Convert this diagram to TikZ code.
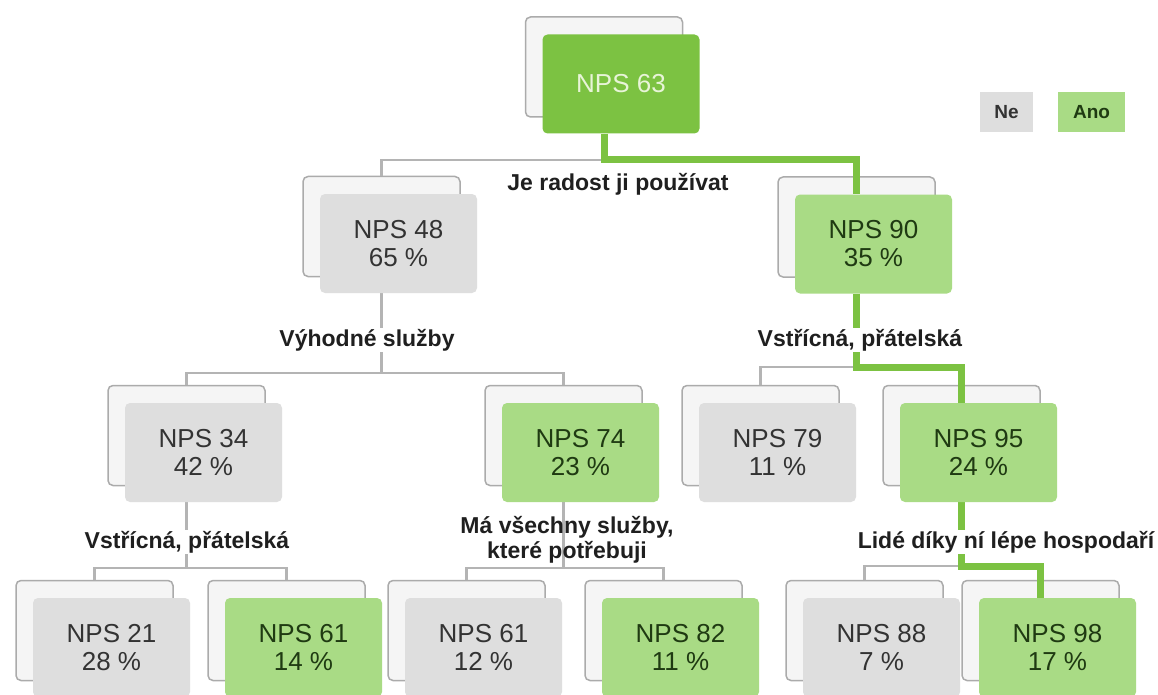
\documentclass[tikz,border=0pt]{standalone}
\usepackage{fontspec}
\setmainfont{Liberation Sans}
\usetikzlibrary{calc}
\definecolor{rootgreen}{HTML}{7CC242}
\definecolor{boxgreen}{HTML}{A9DB85}
\definecolor{boxgray}{HTML}{DEDEDE}
\definecolor{backfill}{HTML}{F5F5F5}
\definecolor{edgegray}{HTML}{ABABAB}
\definecolor{linegray}{HTML}{B4B4B4}
\definecolor{txtgray}{HTML}{333333}
\definecolor{txtgreen}{HTML}{1F3A12}
\definecolor{roottxt}{HTML}{E8F4D8}
\pgfdeclarelayer{bg}
\pgfdeclarelayer{mid}
\pgfsetlayers{bg,mid,main}
\tikzset{
  front/.style={rounded corners=5pt, minimum width=157pt, minimum height=99pt,
    align=center, inner sep=0pt, font=\fontsize{26}{28}\selectfont},
  nobox/.style={front, fill=boxgray, text=txtgray},
  yesbox/.style={front, fill=boxgreen, text=txtgreen},
  rootbox/.style={front, fill=rootgreen, text=roottxt},
  backbox/.style={rounded corners=5pt, minimum width=157pt, minimum height=100pt,
    draw=edgegray, line width=1.5pt, fill=backfill, inner sep=0pt},
  grayline/.style={draw=linegray, line width=2.2pt},
  greenline/.style={draw=rootgreen, line width=7pt},
  question/.style={font=\bfseries\fontsize{23}{25}\selectfont, text=black!88,
    align=center, inner sep=1pt},
  legendbox/.style={minimum height=40pt, inner sep=0pt,
    font=\bfseries\fontsize{19}{21}\selectfont},
}
% a result box: a plain card behind, the coloured card in front
\newcommand\treebox[5]{%
  \begin{pgfonlayer}{bg}\node[backbox] (#1b) at (#2-17,#3-17) {};\end{pgfonlayer}
  \node[#4] (#1) at (#2,#3) {#5};}
\begin{document}
\begin{tikzpicture}[x=1pt, y=-1pt]
\begin{pgfonlayer}{bg}
  \fill[white] (0,0) rectangle (1158,695);
\end{pgfonlayer}
\useasboundingbox (0,0) rectangle (1158,695);

% cards
\treebox{root}{621}{84}{rootbox}{NPS 63}
\treebox{n48}{398.5}{243.5}{nobox}{NPS 48\\65 \%}
\treebox{n90}{873.5}{244}{yesbox}{NPS 90\\35 \%}
\treebox{n34}{203.5}{452.5}{nobox}{NPS 34\\42 \%}
\treebox{n74}{580.5}{452.5}{yesbox}{NPS 74\\23 \%}
\treebox{n79}{777.5}{452.5}{nobox}{NPS 79\\11 \%}
\treebox{n95}{978.5}{452.5}{yesbox}{NPS 95\\24 \%}
\treebox{n21}{111.5}{647.5}{nobox}{NPS 21\\28 \%}
\treebox{n61a}{303.5}{647.5}{yesbox}{NPS 61\\14 \%}
\treebox{n61b}{483.5}{647.5}{nobox}{NPS 61\\12 \%}
\treebox{n82}{680.5}{647.5}{yesbox}{NPS 82\\11 \%}
\treebox{n88}{881.5}{647.5}{nobox}{NPS 88\\7 \%}
\treebox{n98}{1057.5}{647.5}{yesbox}{NPS 98\\17 \%}

% branching heights
\coordinate (j0) at (0,160);
\coordinate (j1) at (0,373);
\coordinate (j2) at (0,367);
\coordinate (j3) at (0,568);
\coordinate (j4) at (0,568);
\coordinate (j5) at (0,566);

\begin{pgfonlayer}{mid}
  % gray branches
  \draw[grayline] (rootb |- root.south) -- (rootb |- j0) -| (n48b.north);
  \draw[grayline] (n48b |- n48.south) -- (n48b |- j1) -| (n34b.north);
  \draw[grayline] (n48b |- j1) -| (n74b.north);
  \draw[grayline] (n90b |- j2) -| (n79b.north);
  \draw[grayline] (n34b |- n34.south) -- (n34b |- j3) -| (n21b.north);
  \draw[grayline] (n34b |- j3) -| (n61ab.north);
  \draw[grayline] (n74b |- n74.south) -- (n74b |- j4) -| (n61bb.north);
  \draw[grayline] (n74b |- j4) -| (n82b.north);
  \draw[grayline] (n95b |- j5) -| (n88b.north);
  % highlighted path
  \draw[greenline] (rootb |- root.south) -- (rootb |- j0) -| (n90b |- n90.north);
  \draw[greenline] (n90b |- n90.south) -- (n90b |- j2) -| (n95b |- n95.north);
  \draw[greenline] (n95b |- n95.south) -- (n95b |- j5) -| (n98b |- n98.north);
\end{pgfonlayer}

% split questions
\node[question] (q0) at (618,184) {Je radost ji používat};
\node[question, fill=white] (q1) at (367,340) {Výhodné služby};
\node[question, fill=white] (q2) at (860,340) {Vstřícná, přátelská};
\node[question, fill=white] (q3) at (187,542) {Vstřícná, přátelská};
\node[question] (q4) at (567,540) {Má všechny služby,\\které potřebuji};
\node[question, fill=white] (q5) at (1006,542) {Lidé díky ní lépe hospodaří};

% legend
\node[legendbox, fill=boxgray, text=txtgray, minimum width=53pt] (ne) at (1006.5,112) {Ne};
\node[legendbox, fill=boxgreen, text=txtgreen, minimum width=67pt] (ano) at (1091.5,112) {Ano};
\end{tikzpicture}
\end{document}
